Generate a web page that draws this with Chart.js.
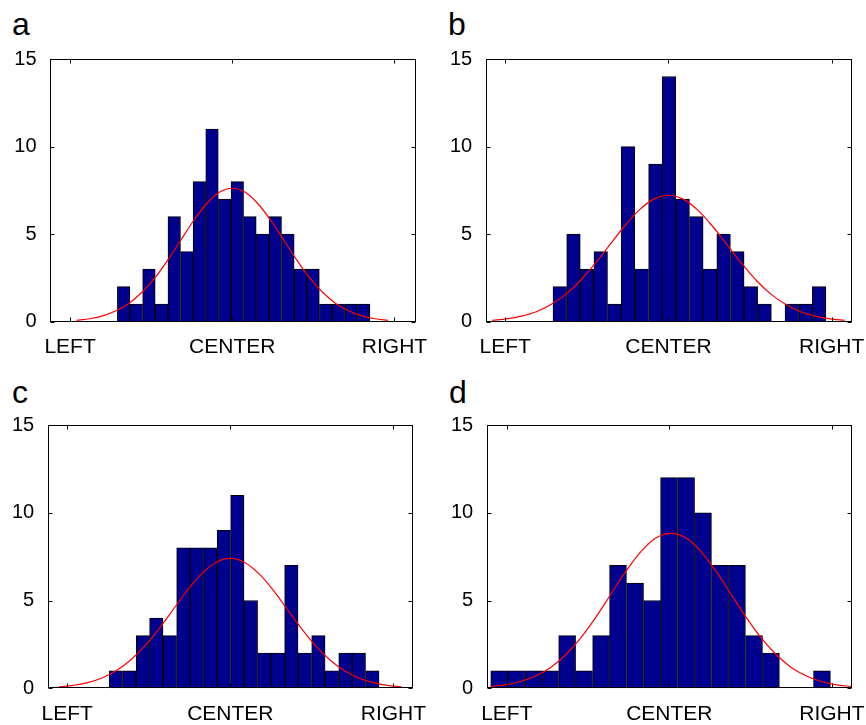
<!DOCTYPE html>
<html><head><meta charset="utf-8">
<script src="https://cdn.jsdelivr.net/npm/chart.js@4"></script>
<style>
html,body{margin:0;padding:0;background:#fff;}
body{width:866px;height:725px;position:relative;overflow:hidden;font-family:"Liberation Sans",Arial,sans-serif;}
canvas{position:absolute;}
.lbl{position:absolute;font-size:32px;line-height:32px;color:#000;}
</style></head><body>
<div class="lbl" style="left:12px;top:8px">a</div>
<div class="lbl" style="left:448px;top:8px">b</div>
<div class="lbl" style="left:12px;top:376px">c</div>
<div class="lbl" style="left:449px;top:376px">d</div>
<canvas id="ca" width="433" height="362" style="left:0;top:0"></canvas>
<canvas id="cb" width="433" height="362" style="left:433px;top:0"></canvas>
<canvas id="cc" width="433" height="363" style="left:0;top:362px"></canvas>
<canvas id="cd" width="433" height="363" style="left:433px;top:362px"></canvas>
<script>
// ---- data ----
const xTickValues = [-1, 0, 1];
const xTickLabels = ['LEFT', 'CENTER', 'RIGHT'];
const yTickValues = [0, 5, 10, 15];

const binCentersA = [-0.670,-0.592,-0.514,-0.436,-0.358,-0.280,-0.203,-0.125,-0.047,0.031,0.109,0.187,0.265,0.343,0.421,0.498,0.576,0.654,0.732,0.810];
const countsA = [2,1,3,1,6,4,8,11,7,8,6,5,6,5,3,3,1,1,1,1];
const curveXA = [-0.96,-0.88,-0.80,-0.72,-0.64,-0.56,-0.48,-0.40,-0.32,-0.24,-0.16,-0.08,0,0.08,0.16,0.24,0.32,0.40,0.48,0.56,0.64,0.72,0.80,0.88,0.96];
const curveYA = [0.08,0.17,0.33,0.61,1.03,1.65,2.47,3.49,4.62,5.75,6.72,7.39,7.62,7.39,6.72,5.75,4.62,3.49,2.47,1.65,1.03,0.61,0.33,0.17,0.08];

const binCentersB = [-0.666,-0.582,-0.499,-0.415,-0.331,-0.248,-0.164,-0.080,0.003,0.087,0.171,0.254,0.338,0.422,0.505,0.589,0.673,0.756,0.840,0.923];
const countsB = [2,5,3,4,1,10,3,9,14,7,6,3,5,4,2,1,0,1,1,2];
const curveXB = [-1.08,-0.99,-0.90,-0.81,-0.72,-0.63,-0.54,-0.45,-0.36,-0.27,-0.18,-0.09,0,0.09,0.18,0.27,0.36,0.45,0.54,0.63,0.72,0.81,0.90,0.99,1.08];
const curveYB = [0.08,0.16,0.32,0.57,0.98,1.56,2.34,3.31,4.38,5.45,6.37,7.00,7.22,7.00,6.37,5.45,4.38,3.31,2.34,1.56,0.98,0.57,0.32,0.16,0.08];

const binCentersC = [-0.702,-0.619,-0.536,-0.454,-0.371,-0.288,-0.205,-0.122,-0.040,0.043,0.126,0.209,0.292,0.374,0.457,0.540,0.623,0.706,0.788,0.871];
const countsC = [1,1,3,4,3,8,8,8,9,11,5,2,2,7,2,3,1,2,2,1];
const curveXC = [-1.050,-0.963,-0.875,-0.788,-0.700,-0.613,-0.525,-0.438,-0.350,-0.263,-0.175,-0.088,0,0.088,0.175,0.263,0.350,0.438,0.525,0.613,0.700,0.788,0.875,0.963,1.050];
const curveYC = [0.08,0.17,0.32,0.59,1.00,1.60,2.40,3.39,4.49,5.59,6.53,7.17,7.40,7.17,6.53,5.59,4.49,3.39,2.40,1.60,1.00,0.59,0.32,0.17,0.08];

const binCentersD = [-1.047,-0.943,-0.838,-0.734,-0.629,-0.525,-0.420,-0.316,-0.211,-0.106,-0.002,0.103,0.207,0.312,0.416,0.521,0.625,0.730,0.834,0.939];
const countsD = [1,1,1,1,3,1,3,7,6,5,12,12,10,7,7,3,2,0,0,1];
const curveXD = [-1.100,-1.008,-0.915,-0.823,-0.730,-0.638,-0.545,-0.453,-0.360,-0.268,-0.175,-0.083,0.010,0.103,0.195,0.288,0.380,0.473,0.565,0.658,0.750,0.843,0.935,1.028,1.120];
const curveYD = [0.10,0.20,0.39,0.70,1.19,1.91,2.87,4.04,5.36,6.66,7.79,8.56,8.83,8.56,7.79,6.66,5.36,4.04,2.87,1.91,1.19,0.70,0.39,0.20,0.10];

// ---- layout (not data) ----
const panels = [
  {id:'ca', bins:binCentersA, counts:countsA, cx:curveXA, cy:curveYA, xMin:-1.124, xMax:1.131, padTop:59, padRight:17.3, yw:50, xh:40.3},
  {id:'cb', bins:binCentersB, counts:countsB, cx:curveXB, cy:curveYB, xMin:-1.120, xMax:1.123, padTop:59, padRight:14.3, yw:52.7, xh:40.3},
  {id:'cc', bins:binCentersC, counts:countsC, cx:curveXC, cy:curveYC, xMin:-1.120, xMax:1.122, padTop:63, padRight:19.7, yw:47.7, xh:36.7},
  {id:'cd', bins:binCentersD, counts:countsD, cx:curveXD, cy:curveYD, xMin:-1.124, xMax:1.122, padTop:63, padRight:14.3, yw:53.7, xh:36.7}
];

const FAM = '"Liberation Sans", Arial, sans-serif';

const boxTicks = {
  id: 'boxTicks',
  afterDatasetsDraw(chart) {
    const {ctx, chartArea: a, scales: {x, y}} = chart;
    const L = Math.round(a.left) + 0.5, R = Math.round(a.right) - 0.5;
    const T = Math.round(a.top) + 0.5, B = Math.round(a.bottom) - 0.5;
    ctx.save();
    ctx.strokeStyle = '#000';
    ctx.lineWidth = 1;
    ctx.beginPath();
    x.ticks.forEach(t => {
      const px = Math.round(x.getPixelForValue(t.value)) + 0.5;
      ctx.moveTo(px, T); ctx.lineTo(px, T + 4);
      ctx.moveTo(px, B); ctx.lineTo(px, B - 4);
    });
    y.ticks.forEach(t => {
      const py = Math.round(y.getPixelForValue(t.value)) + 0.5;
      ctx.moveTo(L, py); ctx.lineTo(L + 4, py);
      ctx.moveTo(R, py); ctx.lineTo(R - 4, py);
    });
    ctx.stroke();
    ctx.strokeRect(L, T, R - L, B - T);
    ctx.restore();
  }
};

panels.forEach(p => {
  new Chart(document.getElementById(p.id), {
    type: 'bar',
    data: {
      datasets: [
        {
          type: 'line',
          data: p.cx.map((x, i) => ({x: x, y: p.cy[i]})),
          borderColor: '#ff0000',
          borderWidth: 1.2,
          pointRadius: 0,
          cubicInterpolationMode: 'monotone',
          fill: false,
          order: 0
        },
        {
          type: 'bar',
          data: p.bins.map((x, i) => ({x: x, y: p.counts[i]})),
          backgroundColor: 'rgb(0,0,143)',
          borderColor: '#000',
          borderWidth: {top: 1, left: 1, right: 1, bottom: 0},
          barPercentage: 1,
          categoryPercentage: 1,
          order: 1
        }
      ]
    },
    options: {
      responsive: false,
      animation: false,
      devicePixelRatio: 1,
      layout: {padding: {top: p.padTop, right: p.padRight, left: 0, bottom: 0}},
      plugins: {legend: {display: false}, tooltip: {enabled: false}, title: {display: false}},
      scales: {
        x: {
          type: 'linear', min: p.xMin, max: p.xMax, offset: false,
          grid: {display: false, drawTicks: false},
          border: {display: false},
          afterBuildTicks: s => { s.ticks = xTickValues.map(v => ({value: v})); },
          ticks: {
            callback: (v, i) => xTickLabels[i],
            color: '#000', font: {family: FAM, size: 21}, padding: 13, maxRotation: 0, minRotation: 0, autoSkip: false
          },
          afterFit: s => { s.height = p.xh; s.paddingLeft = 0; s.paddingRight = 0; }
        },
        y: {
          type: 'linear', min: 0, max: 15,
          grid: {display: false, drawTicks: false},
          border: {display: false},
          afterBuildTicks: s => { s.ticks = yTickValues.map(v => ({value: v})); },
          ticks: {color: '#000', font: {family: FAM, size: 20}, padding: 13.5},
          afterFit: s => { s.width = p.yw; s.paddingTop = 0; s.paddingBottom = 0; }
        }
      }
    },
    plugins: [boxTicks]
  });
});
</script>
</body></html>
